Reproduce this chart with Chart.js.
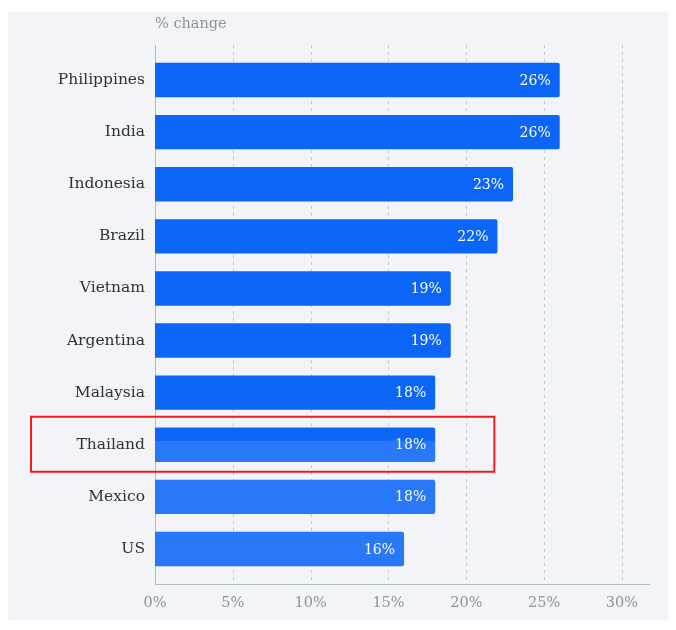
<!DOCTYPE html>
<html>
<head>
<meta charset="utf-8">
<script src="https://cdn.jsdelivr.net/npm/chart.js@4/dist/chart.umd.min.js"></script>
<style>
  html, body { margin: 0; padding: 0; background: #ffffff; }
  #wrap { position: relative; width: 676px; height: 630px; }
  #panel { position: absolute; left: 8px; top: 12px; width: 660px; height: 608px; background: #f3f4f7; }
  #chart { position: absolute; left: 0; top: 0; }
</style>
</head>
<body>
<div id="wrap">
  <div id="panel"></div>
  <canvas id="chart" width="676" height="630"></canvas>
</div>
<script>
// Data
const countries = ["Philippines", "India", "Indonesia", "Brazil", "Vietnam", "Argentina", "Malaysia", "Thailand", "Mexico", "US"];
const changePct = [26, 26, 23, 22, 19, 19, 18, 18, 18, 16];
const xTicks = [0, 5, 10, 15, 20, 25, 30];
const axisTitle = "% change";
const highlighted = "Thailand";

const serif = "'DejaVu Serif', 'Liberation Serif', serif";
const barBlue = "#0b66f7";
const gridGray = "#c5c9d2";
const axisGray = "#b4b9c4";
const tickGray = "#8e939e";

// grid, axis lines, title, value labels and the red highlight box
const decorPlugin = {
  id: "decor",
  beforeDatasetsDraw(chart) {
    const { ctx, chartArea, scales } = chart;
    const ext = 9;
    ctx.save();
    ctx.strokeStyle = gridGray;
    ctx.lineWidth = 1;
    ctx.setLineDash([3, 4]);
    xTicks.forEach(t => {
      if (t === 0) return;
      const x = Math.round(scales.x.getPixelForValue(t)) + 0.5;
      ctx.beginPath();
      ctx.moveTo(x, chartArea.top - ext);
      ctx.lineTo(x, chartArea.bottom + ext);
      ctx.stroke();
    });
    ctx.setLineDash([]);
    ctx.strokeStyle = axisGray;
    const x0 = Math.round(scales.x.getPixelForValue(0)) + 0.5;
    const yb = Math.round(chartArea.bottom + ext) + 0.5;
    ctx.beginPath();
    ctx.moveTo(x0, chartArea.top - ext);
    ctx.lineTo(x0, yb);
    ctx.lineTo(chartArea.right, yb);
    ctx.stroke();

    ctx.fillStyle = tickGray;
    ctx.font = "14.5px " + serif;
    ctx.textAlign = "left";
    ctx.textBaseline = "middle";
    ctx.fillText(axisTitle, chartArea.left, chartArea.top - 30);
    ctx.restore();
  },
  afterDatasetsDraw(chart) {
    const { ctx, chartArea, scales } = chart;
    const meta = chart.getDatasetMeta(0);
    ctx.save();
    ctx.fillStyle = "#ffffff";
    ctx.font = "14px " + serif;
    ctx.textAlign = "right";
    ctx.textBaseline = "middle";
    meta.data.forEach((bar, i) => {
      ctx.fillText(changePct[i] + "%", bar.x - 9, bar.y + 1);
    });

    // faint watermark wash over the lower bars, as in the scanned reference
    const yH = scales.y.getPixelForValue(countries.indexOf(highlighted));
    ctx.fillStyle = "rgba(255,255,255,0.12)";
    meta.data.forEach((bar, i) => {
      if (i < countries.indexOf(highlighted)) return;
      const top = Math.max(bar.y - bar.height / 2, yH - 4);
      ctx.fillRect(bar.base, top, bar.x - bar.base, bar.y + bar.height / 2 - top);
    });

    // red highlight box
    ctx.strokeStyle = "#f21c1c";
    ctx.lineWidth = 2;
    const xr = scales.x.getPixelForValue(21.8);
    ctx.strokeRect(31, yH - 28, xr - 31, 55);
    ctx.restore();
  }
};

new Chart(document.getElementById("chart"), {
  type: "bar",
  data: {
    labels: countries,
    datasets: [{
      data: changePct,
      backgroundColor: barBlue,
      borderRadius: 2,
      borderSkipped: "start",
      barPercentage: 0.66,
      categoryPercentage: 1
    }]
  },
  options: {
    indexAxis: "y",
    responsive: false,
    animation: false,
    layout: { padding: { top: 54, right: 26, bottom: 0, left: 0 } },
    plugins: { legend: { display: false }, tooltip: { enabled: false } },
    scales: {
      x: {
        min: 0,
        max: 31.8,
        afterFit(scale) { scale.height = 55; },
        afterBuildTicks(scale) { scale.ticks = xTicks.map(v => ({ value: v })); },
        grid: { display: false, drawTicks: false },
        border: { display: false },
        ticks: {
          padding: 20,
          color: tickGray,
          font: { family: serif, size: 14.5 },
          callback: v => v + "%"
        }
      },
      y: {
        afterFit(scale) { scale.width = 155; },
        grid: { display: false, drawTicks: false },
        border: { display: false },
        ticks: {
          padding: 10,
          color: "#2f3237",
          font: { family: serif, size: 15.5 }
        }
      }
    }
  },
  plugins: [decorPlugin]
});
</script>
</body>
</html>
